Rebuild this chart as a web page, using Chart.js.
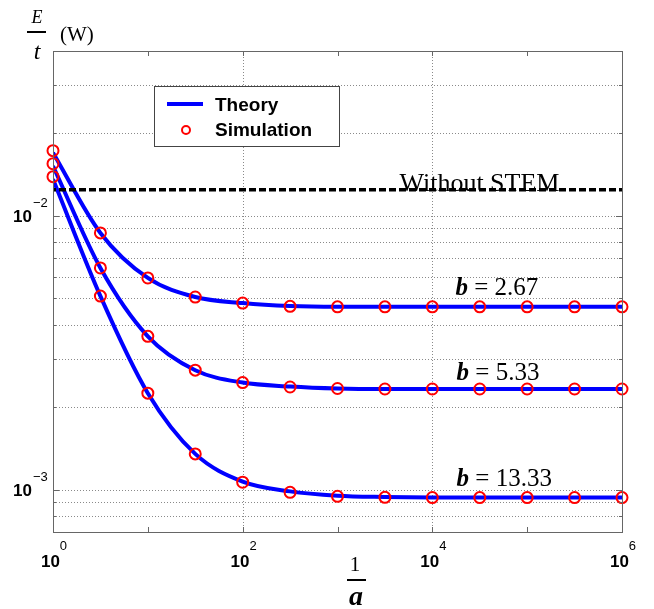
<!DOCTYPE html>
<html>
<head>
<meta charset="utf-8">
<script src="https://cdn.jsdelivr.net/npm/chart.js@4.4.1/dist/chart.umd.min.js"></script>
<style>
  html, body { margin: 0; padding: 0; background: #fff; }
  #wrap { width: 654px; height: 609px; position: relative; }
</style>
</head>
<body>
<div id="wrap"><canvas id="myChart"></canvas></div>
<script>
// x values: 1/a at half decades
var invA = [1, 3.162, 10, 31.62, 100, 316.2, 1e3, 3162, 1e4, 31620, 1e5, 316200, 1e6];

// simulation points
var simB267 = [1.73e-2, 8.66e-3, 5.93e-3, 5.05e-3, 4.80e-3, 4.67e-3, 4.65e-3, 4.65e-3, 4.65e-3, 4.65e-3, 4.65e-3, 4.65e-3, 4.65e-3];
var simB533 = [1.55e-2, 6.45e-3, 3.63e-3, 2.73e-3, 2.46e-3, 2.37e-3, 2.34e-3, 2.33e-3, 2.33e-3, 2.33e-3, 2.33e-3, 2.33e-3, 2.33e-3];
var simB1333 = [1.39e-2, 5.09e-3, 2.25e-3, 1.35e-3, 1.064e-3, 9.77e-4, 9.45e-4, 9.37e-4, 9.35e-4, 9.35e-4, 9.35e-4, 9.35e-4, 9.35e-4];

// theory curves
var thB267 = [1.70e-2, 8.66e-3, 5.93e-3, 5.05e-3, 4.80e-3, 4.68e-3, 4.65e-3, 4.65e-3, 4.65e-3, 4.65e-3, 4.65e-3, 4.65e-3, 4.65e-3];
var thB533 = [1.52e-2, 6.45e-3, 3.63e-3, 2.73e-3, 2.46e-3, 2.38e-3, 2.34e-3, 2.33e-3, 2.33e-3, 2.33e-3, 2.33e-3, 2.33e-3, 2.33e-3];
var thB1333 = [1.36e-2, 5.09e-3, 2.25e-3, 1.35e-3, 1.07e-3, 9.85e-4, 9.50e-4, 9.40e-4, 9.36e-4, 9.35e-4, 9.35e-4, 9.35e-4, 9.35e-4];

// level without STEM
var noStem = 1.245e-2;

// axes
var xTicks = [1, 10, 100, 1e3, 1e4, 1e5, 1e6];
var xTickExp = [0, 2, 4, 6];
var yGrid = [8e-4, 9e-4, 1e-3, 2e-3, 3e-3, 4e-3, 5e-3, 6e-3, 7e-3, 8e-3, 9e-3, 1e-2, 2e-2, 3e-2];
var yTickExp = [-2, -3];

// curve labels
var bLabels = ['2.67', '5.33', '13.33'];
var bLabelX = [1.75e4, 1.8e4, 1.8e4];
var bLabelY = [5.135e-3, 2.508e-3, 1.034e-3];

function pts(ys) {
    return invA.map(function (x, i) { return {x: x, y: ys[i]}; });
}

function theory(ys, label) {
    return {
        label: label,
        data: pts(ys),
        borderColor: '#0000ff',
        borderWidth: 4,
        pointRadius: 0,
        fill: false,
        cubicInterpolationMode: 'monotone',
        order: 3
    };
}

function simulation(ys, label) {
    return {
        label: label,
        data: pts(ys),
        showLine: false,
        borderColor: '#ff0000',
        backgroundColor: 'rgba(0,0,0,0)',
        borderWidth: 2,
        pointRadius: 5.5,
        pointStyle: 'circle',
        clip: false, // circles at the ends sit on the box
        order: 1
    };
}

var serif = '"Liberation Serif", "Times New Roman", serif';
var sans = '"Liberation Sans", Arial, sans-serif';

// grid, box, ticks, labels, legend
var decor = {
    id: 'decor',
    beforeDatasetsDraw: function (chart) {
        var c = chart.ctx, a = chart.chartArea;
        var xs = chart.scales.x, ys = chart.scales.y;
        c.save();
        c.strokeStyle = '#8a8a8a';
        c.lineWidth = 1;
        c.setLineDash([1, 2]);
        yGrid.forEach(function (v) {
            var y = Math.round(ys.getPixelForValue(v)) + 0.5;
            c.beginPath(); c.moveTo(a.left, y); c.lineTo(a.right, y); c.stroke();
        });
        xTickExp.forEach(function (e) {
            var x = Math.round(xs.getPixelForValue(Math.pow(10, e))) + 0.5;
            c.beginPath(); c.moveTo(x, a.top); c.lineTo(x, a.bottom); c.stroke();
        });
        c.restore();
    },
    afterDatasetsDraw: function (chart) {
        var c = chart.ctx, a = chart.chartArea;
        var xs = chart.scales.x, ys = chart.scales.y;
        c.save();

        // box
        c.strokeStyle = '#666';
        c.lineWidth = 1;
        c.strokeRect(Math.round(a.left) + 0.5, Math.round(a.top) + 0.5,
            Math.round(a.right - a.left), Math.round(a.bottom - a.top));

        // inward tick marks
        c.beginPath();
        yGrid.forEach(function (v) {
            var y = Math.round(ys.getPixelForValue(v)) + 0.5;
            var len = (v === 1e-2 || v === 1e-3) ? 6 : 3;
            c.moveTo(a.left, y); c.lineTo(a.left + len, y);
            c.moveTo(a.right, y); c.lineTo(a.right - len, y);
        });
        xTicks.forEach(function (v) {
            var x = Math.round(xs.getPixelForValue(v)) + 0.5;
            c.moveTo(x, a.bottom); c.lineTo(x, a.bottom - 5);
            c.moveTo(x, a.top); c.lineTo(x, a.top + 5);
        });
        c.stroke();

        // tick labels 10^n
        c.fillStyle = '#000';
        c.textBaseline = 'alphabetic';
        yTickExp.forEach(function (e) {
            var y = ys.getPixelForValue(Math.pow(10, e));
            c.font = 'bold 17px ' + sans;
            c.textAlign = 'right';
            c.fillText('10', 32, y + 6);
            c.font = '13px ' + sans;
            c.textAlign = 'left';
            c.fillText('\u2212' + (-e), 33, y - 9);
        });
        xTickExp.forEach(function (e) {
            var x = xs.getPixelForValue(Math.pow(10, e));
            c.font = 'bold 17px ' + sans;
            var w1 = c.measureText('10').width;
            c.font = '13px ' + sans;
            var w2 = c.measureText(String(e)).width;
            var left = x - (w1 + w2) / 2 + 1;
            c.textAlign = 'left';
            c.font = 'bold 17px ' + sans;
            c.fillText('10', left, 567);
            c.font = '13px ' + sans;
            c.fillText(String(e), left + w1, 550);
        });

        // y axis title: E/t (W)
        c.textAlign = 'center';
        c.font = 'italic 18px ' + serif;
        c.fillText('E', 37, 23);
        c.fillRect(27, 31, 19, 2);
        c.font = 'italic 24px ' + serif;
        c.fillText('t', 37, 59);
        c.textAlign = 'left';
        c.font = '21px ' + serif;
        c.fillText('(W)', 60, 41);

        // x axis title: 1/a
        c.textAlign = 'center';
        c.font = '21px ' + serif;
        c.fillText('1', 355, 571);
        c.fillRect(347, 579, 19, 2);
        c.font = 'bold italic 28px ' + serif;
        c.fillText('a', 356, 605);

        // Without STEM
        c.textAlign = 'left';
        c.font = '26px ' + serif;
        c.fillText('Without STEM', xs.getPixelForValue(4.5e3), ys.getPixelForValue(noStem) + 1);

        // b = ... labels
        bLabels.forEach(function (t, i) {
            var x = xs.getPixelForValue(bLabelX[i]);
            var y = ys.getPixelForValue(bLabelY[i]);
            c.font = 'bold italic 25px ' + serif;
            c.fillText('b', x, y);
            var w = c.measureText('b').width;
            c.font = '25px ' + serif;
            c.fillText(' = ' + t, x + w, y);
        });

        // legend box
        c.fillStyle = '#fff';
        c.fillRect(154, 86, 185, 60);
        c.strokeStyle = '#444';
        c.lineWidth = 1;
        c.strokeRect(154.5, 86.5, 185, 60);
        c.strokeStyle = '#0000ff';
        c.lineWidth = 4;
        c.beginPath(); c.moveTo(167, 104); c.lineTo(203, 104); c.stroke();
        c.strokeStyle = '#ff0000';
        c.lineWidth = 2;
        c.beginPath(); c.arc(186, 130, 4, 0, Math.PI * 2); c.stroke();
        c.fillStyle = '#000';
        c.font = 'bold 19px ' + sans;
        c.fillText(chart.data.datasets[0].label, 215, 111);
        c.fillText(chart.data.datasets[3].label, 215, 136);

        c.restore();
    }
};

var ctx = document.getElementById('myChart').getContext('2d');
var myChart = new Chart(ctx, {
    type: 'line',
    data: {
        datasets: [
            theory(thB267, 'Theory'),
            theory(thB533, 'Theory b=5.33'),
            theory(thB1333, 'Theory b=13.33'),
            simulation(simB267, 'Simulation'),
            simulation(simB533, 'Simulation b=5.33'),
            simulation(simB1333, 'Simulation b=13.33'),
            {
                label: 'Without STEM',
                data: [{x: 1, y: noStem}, {x: 1e6, y: noStem}],
                borderColor: '#000',
                borderWidth: 3.5,
                borderDash: [7, 3],
                borderDashOffset: 4,
                pointRadius: 0,
                fill: false,
                order: 2
            }
        ]
    },
    options: {
        responsive: true,
        maintainAspectRatio: false,
        animation: false,
        layout: {
            padding: {left: 53, right: 32, top: 51, bottom: 77}
        },
        scales: {
            x: {
                type: 'logarithmic',
                min: 1,
                max: 1e6,
                display: false
            },
            y: {
                type: 'logarithmic',
                min: 7e-4,
                max: 4e-2,
                display: false
            }
        },
        plugins: {
            legend: {display: false},
            tooltip: {enabled: false}
        }
    },
    plugins: [decor]
});
</script>
</body>
</html>
